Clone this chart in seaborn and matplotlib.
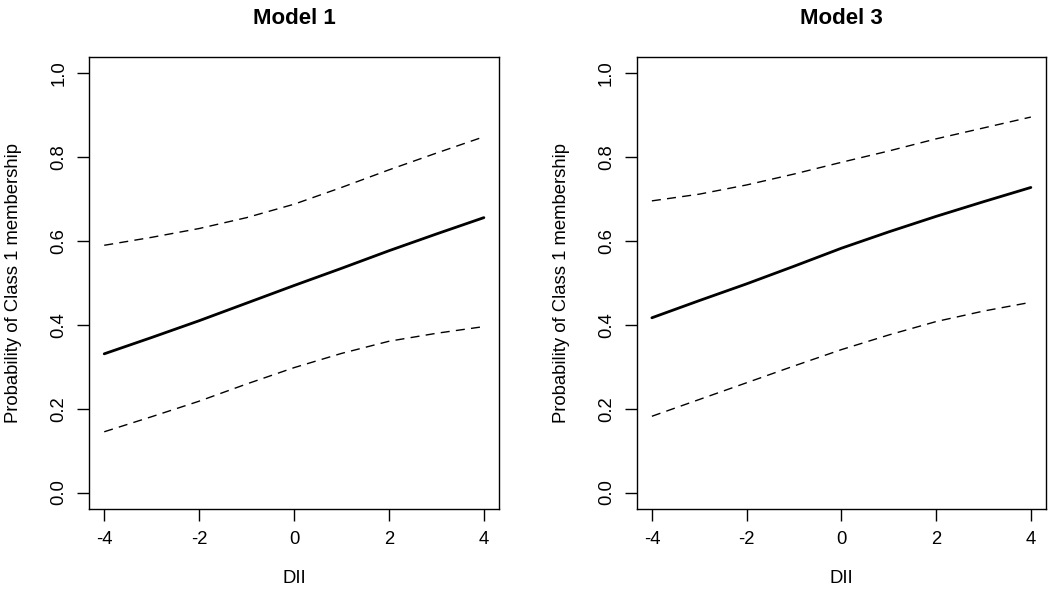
import pandas as pd
import matplotlib.pyplot as plt
import seaborn as sns

# DII values where the curves were read
dii = [-4, -3, -2, -1, 0, 1, 2, 3, 4]

# Model 1: fitted probability and confidence bounds
m1_fit = [0.331, 0.370, 0.410, 0.452, 0.494, 0.535, 0.577, 0.617, 0.656]
m1_upper = [0.590, 0.609, 0.630, 0.656, 0.688, 0.728, 0.770, 0.810, 0.849]
m1_lower = [0.145, 0.181, 0.218, 0.259, 0.298, 0.332, 0.361, 0.380, 0.396]

# Model 3: fitted probability and confidence bounds
m3_fit = [0.417, 0.458, 0.498, 0.540, 0.583, 0.622, 0.659, 0.694, 0.728]
m3_upper = [0.696, 0.712, 0.734, 0.760, 0.788, 0.815, 0.844, 0.870, 0.896]
m3_lower = [0.182, 0.222, 0.262, 0.302, 0.341, 0.376, 0.408, 0.433, 0.454]

titles = ['Model 1', 'Model 3']
y_ticks = [0.0, 0.2, 0.4, 0.6, 0.8, 1.0]
x_ticks = [-4, -2, 0, 2, 4]

sns.set_style('ticks')
plt.rcParams['font.family'] = ['Liberation Sans', 'DejaVu Sans']
plt.rcParams['text.color'] = 'black'
plt.rcParams['axes.labelcolor'] = 'black'

fs = 13.3

fig = plt.figure(figsize=(10.5, 5.97), dpi=100)
ax1 = fig.add_axes([0.0848, 0.1469, 0.3905, 0.7581])
ax2 = fig.add_axes([0.6064, 0.1469, 0.3898, 0.7581])

models = [(m1_fit, m1_upper, m1_lower), (m3_fit, m3_upper, m3_lower)]

for ax, title, (fit, upper, lower) in zip([ax1, ax2], titles, models):
    df = pd.DataFrame({'DII': dii, 'fit': fit, 'upper': upper, 'lower': lower})
    sns.lineplot(data=df, x='DII', y='fit', ax=ax, color='black', linewidth=2)
    for col in ['upper', 'lower']:
        sns.lineplot(data=df, x='DII', y=col, ax=ax, color='black',
                     linewidth=1, dashes=False, linestyle=(0, (6.5, 4.5)))
    ax.set_xlim(-4.32, 4.32)
    ax.set_ylim(-0.04, 1.04)
    ax.set_xticks(x_ticks)
    ax.set_xticklabels([str(t) for t in x_ticks])
    ax.set_yticks(y_ticks)
    ax.set_yticklabels([f'{t:.1f}' for t in y_ticks], rotation=90, va='center')
    ax.tick_params(direction='out', length=8.6, width=1, labelsize=fs,
                   color='black', labelcolor='black')
    ax.tick_params(axis='x', pad=7)
    ax.tick_params(axis='y', pad=7)
    for s in ax.spines.values():
        s.set_visible(True)
        s.set_linewidth(1)
        s.set_color('black')
    ax.set_xlabel('DII', fontsize=fs, va='center')
    ax.xaxis.set_label_coords(0.5, -0.152)
    ax.set_ylabel('Probability of Class 1 membership', fontsize=fs, va='center')
    ax.yaxis.set_label_coords(-0.185, 0.5)
    ax.set_title(title, fontsize=16, fontweight='bold', y=1.0855, va='center', pad=0)

fig.savefig('out.png', dpi=100)
